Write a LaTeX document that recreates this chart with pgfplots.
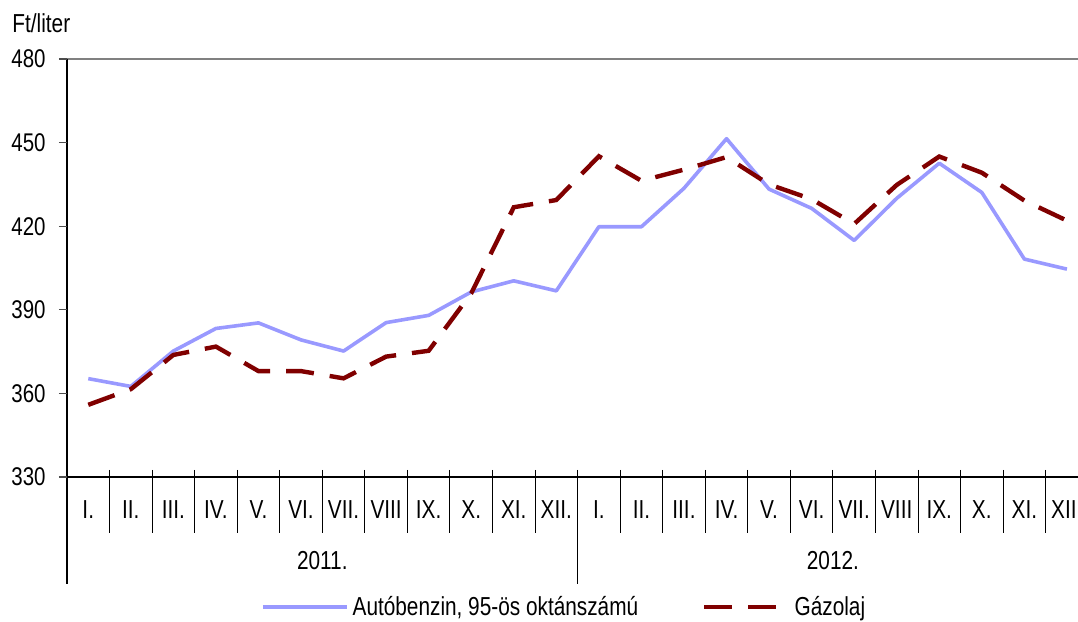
\documentclass[border=0pt]{standalone}
\usepackage{fontspec}
\setmainfont{Liberation Sans}[FakeStretch=0.8]
\usepackage{pgfplots}
\usepackage{pgfplotstable}
\pgfplotsset{compat=1.18}
\definecolor{benz}{HTML}{9999FF}
\definecolor{gaz}{HTML}{800000}
\pgfplotstableread{
x benz gaz
0.5 365.3 355.9
1.5 362.5 361.5
2.5 375.2 373.8
3.5 383.3 376.8
4.5 385.3 368.0
5.5 379.2 368.0
6.5 375.2 365.4
7.5 385.4 373.2
8.5 388.0 375.3
9.5 396.4 395.9
10.5 400.4 426.8
11.5 396.8 429.4
12.5 419.8 445.1
13.5 419.8 436.3
14.5 433.6 440.3
15.5 451.4 444.8
16.5 433.3 435.0
17.5 426.4 429.7
18.5 414.9 420.8
19.5 430.0 434.8
20.5 442.6 445.0
21.5 432.1 439.2
22.5 408.2 429.2
23.5 404.6 422.0
}\prices
\begin{document}
\begin{tikzpicture}[font=\fontsize{13pt}{15pt}\selectfont]
\useasboundingbox (0,0) rectangle (539pt,311pt);
\clip (0,0) rectangle (539pt,311pt);
\node[anchor=base west, inner sep=0pt] at (6pt,294.5pt) {Ft/liter};
% frame and category separators (axis box: x 33.5pt..544.1pt, y 72.5pt..281.5pt; category = 21.275pt)
\draw[black!50, line width=0.6pt] (29.5pt,281.5pt) -- (545pt,281.5pt);
\draw[black, line width=0.6pt] (29.5pt,72.5pt) -- (545pt,72.5pt);
\draw[black, line width=0.6pt] (33.5pt,281.5pt) -- (33.5pt,19pt);
\foreach \i in {1,...,11,13,14,...,23}{
  \draw[black, line width=0.5pt] ({33.5pt+\i*21.275pt},76pt) -- ({33.5pt+\i*21.275pt},44.5pt);
}
\draw[black, line width=0.5pt] ({33.5pt+12*21.275pt},76pt) -- ({33.5pt+12*21.275pt},19pt);
\begin{axis}[
  at={(33.5pt,72.5pt)}, anchor=south west,
  scale only axis, width=510.6pt, height=209pt,
  xmin=0, xmax=24, ymin=330, ymax=480,
  clip=false,
  axis line style={draw=none},
  ytick={330,360,...,480},
  ytick pos=left,
  tick align=outside,
  major tick length=4pt,
  ytick style={black!70, line width=0.6pt},
  yticklabel style={inner sep=0pt, xshift=-6.5pt, font=\fontsize{12.8pt}{15pt}\selectfont},
  /pgf/number format/assume math mode=true,
  xtick={0.5,1.5,2.5,3.5,4.5,5.5,6.5,7.5,8.5,9.5,10.5,11.5,12.5,13.5,14.5,15.5,16.5,17.5,18.5,19.5,20.5,21.5,22.5,23.43},
  xticklabels={I.,II.,III.,IV.,V.,VI.,VII.,VIII,IX.,X.,XI.,XII.,I.,II.,III.,IV.,V.,VI.,VII.,VIII,IX.,X.,XI.,XII},
  xtick style={draw=none},
  xticklabel style={anchor=north, inner sep=0pt, yshift=-7.4pt},
  legend style={at={(0.190,-0.311)}, anchor=west, draw=none, fill=none,
    inner sep=0pt, outer sep=0pt, column sep=0pt,
    nodes={inner sep=0pt, anchor=west},
    /tikz/every odd column/.append style={column sep=2pt},
    /tikz/every even column/.append style={column sep=32pt}},
  legend columns=2,
]
\addplot[benz, line width=1.8pt, line join=round,
  legend image code/.code={\draw[benz, line width=1.8pt] (0pt,0pt) -- (42pt,0pt);}]
  table[x=x, y=benz] {\prices};
\addlegendentry{Autóbenzin, 95-ös oktánszámú}
\addplot[gaz, line width=2.2pt, dash pattern=on 14pt off 8pt,
  legend image code/.code={\draw[gaz, line width=2.2pt, dash pattern=on 14pt off 8pt] (0pt,0pt) -- (36.5pt,0pt); \path (42pt,0pt);}]
  table[x=x, y=gaz] {\prices};
\addlegendentry{Gázolaj}
\node[anchor=north, inner sep=0pt, yshift=-36.9pt] at (axis cs:6,330) {2011.};
\node[anchor=north, inner sep=0pt, yshift=-36.9pt] at (axis cs:18,330) {2012.};
\end{axis}
\end{tikzpicture}
\end{document}
